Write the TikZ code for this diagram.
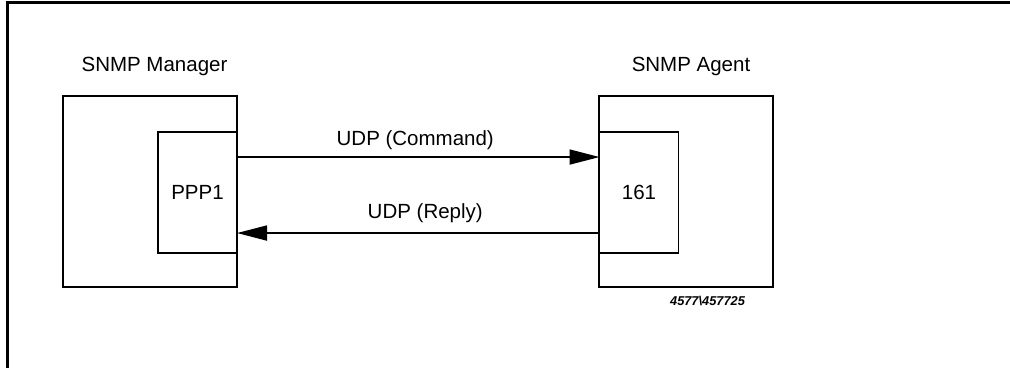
\documentclass[tikz,border=0pt]{standalone}
\usepackage{fontspec}
\setmainfont{Liberation Sans}
\usetikzlibrary{positioning, calc, arrows.meta}
\newcommand\diagfont{\fontsize{10.25}{12}\selectfont}
\tikzset{
	hostbox/.style={draw, inner sep=0pt, outer sep=0pt, minimum width=87pt, minimum height=95.5pt}
}
\tikzset{
	portbox/.style={draw, inner sep=0pt, outer sep=0pt, minimum width=39.5pt, minimum height=60.5pt, font=\diagfont}
}
\tikzset{
	hosttext/.style={inner sep=0pt, anchor=base, font=\diagfont},
	msgtext/.style={inner sep=0pt, font=\diagfont},
	tagtext/.style={inner sep=0pt, anchor=base, font=\fontsize{6.4}{7}\selectfont\bfseries\itshape},
	msg/.style={-{Triangle[length=15pt, width=7.5pt]}}
}

\begin{document}
\begin{tikzpicture}[x=0.5pt, y=-0.5pt, line width=0.85pt]
      \useasboundingbox (0,0) rectangle (1010,368);
      % page frame
      \draw[line width=1.5pt] (7,368) -- (7,3) -- (1010,3);
      % manager side
      \node[hostbox] (mgr) at (150,191.5) {};
      \node[portbox] (ppp) at (197.5,192.5) {PPP1};
      \node[hosttext] (mgrname) at (154.5,72) {SNMP Manager};
      % agent side
      \node[hostbox] (agt) at (686,191.5) {};
      \node[portbox] (port) at (639,192.5) {161};
      \node[hosttext] (agtname) at (691,72) {SNMP Agent};
      % udp messages
      \draw[msg] ($(ppp.north east)!0.207!(ppp.south east)$) -- ($(port.north west)!0.207!(port.south west)$)
        node[msgtext, midway, above=3pt, xshift=-1.5pt] {UDP (Command)};
      \draw[msg] ($(port.north west)!0.835!(port.south west)$) -- ($(ppp.north east)!0.835!(ppp.south east)$)
        node[msgtext, midway, above=4.5pt, xshift=3.5pt] {UDP (Reply)};
      % figure number
      \node[tagtext] (tag) at (707.5,306) {4577\textbackslash 457725};
    \end{tikzpicture}
\end{document}
